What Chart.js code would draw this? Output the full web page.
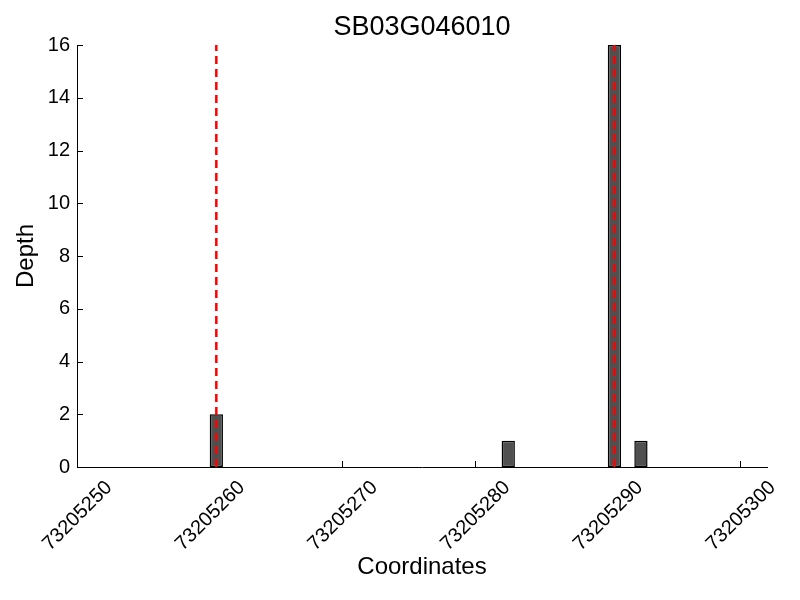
<!DOCTYPE html>
<html>
<head>
<meta charset="utf-8">
<script src="https://cdn.jsdelivr.net/npm/chart.js@4/dist/chart.umd.min.js"></script>
<style>
html,body{margin:0;padding:0;background:#fff;}
#wrap{width:800px;height:600px;}
</style>
</head>
<body>
<div id="wrap"><canvas id="c" width="800" height="600"></canvas></div>
<script>
// Data
const chartTitle = "SB03G046010";
const xAxisTitle = "Coordinates";
const yAxisTitle = "Depth";
const binStarts = [73205260, 73205282, 73205290, 73205292]; // each bin is 1 coordinate wide
const depths = [2, 1, 16, 1];
const markerPositions = [73205260.5, 73205290.5];
const xMin = 73205250, xMax = 73205302, xStep = 10;
const yMin = 0, yMax = 16, yStep = 2;

const FONT = "'Liberation Sans', Arial, Helvetica, sans-serif";

const barData = binStarts.map((b, i) => ({x: b + 0.5, y: depths[i]}));
const markerSets = markerPositions.map(p => ({
  type: 'line',
  data: [{x: p, y: yMin}, {x: p, y: yMax}],
  borderColor: '#ff0000',
  borderWidth: 2.5,
  borderDash: [8, 5],
  pointRadius: 0,
  fill: false,
  order: 0
}));

const inwardTicks = {
  id: 'inwardTicks',
  afterDatasetsDraw(chart) {
    const ctx = chart.ctx;
    const xs = chart.scales.x, ys = chart.scales.y;
    ctx.save();
    ctx.strokeStyle = '#000';
    ctx.lineWidth = 1;
    ctx.beginPath();
    xs.ticks.forEach(t => {
      const px = Math.round(xs.getPixelForValue(t.value)) + 0.5;
      ctx.moveTo(px, ys.bottom);
      ctx.lineTo(px, ys.bottom - 6);
    });
    ys.ticks.forEach(t => {
      const py = Math.round(ys.getPixelForValue(t.value)) + 0.5;
      ctx.moveTo(xs.left, py);
      ctx.lineTo(xs.left + 6, py);
    });
    ctx.stroke();
    ctx.restore();
  }
};

new Chart(document.getElementById('c'), {
  type: 'bar',
  data: {
    datasets: [
      ...markerSets,
      {
        type: 'bar',
        data: barData,
        backgroundColor: '#505050',
        borderColor: '#000000',
        borderWidth: 1.5,
        borderSkipped: false,
        barPercentage: 1.0,
        categoryPercentage: 0.5,
        order: 1
      }
    ]
  },
  options: {
    responsive: false,
    animation: false,
    layout: {padding: {left: 0, right: 33, top: 0, bottom: 0}},
    plugins: {
      legend: {display: false},
      tooltip: {enabled: false},
      title: {
        display: true,
        text: chartTitle,
        fullSize: false,
        color: '#000',
        font: {family: FONT, size: 27, weight: 'normal', lineHeight: 1.0},
        padding: {top: 14.5, bottom: 3.5}
      }
    },
    scales: {
      x: {
        type: 'linear',
        min: xMin, max: xMax,
        offset: false,
        afterFit(s) { s.height = 133; },
        grid: {display: false, drawTicks: false},
        border: {display: true, color: '#000', width: 1},
        ticks: {
          stepSize: xStep,
          includeBounds: false,
          autoSkip: false,
          minRotation: 45, maxRotation: 45,
          labelOffset: 32,
          padding: 9,
          color: '#000',
          font: {family: FONT, size: 20},
          callback: v => String(v)
        },
        title: {
          display: true, text: xAxisTitle, color: '#000',
          font: {family: FONT, size: 24},
          padding: {top: 0, bottom: 18}
        }
      },
      y: {
        min: yMin, max: yMax,
        afterFit(s) { s.width = 77; },
        grid: {display: false, drawTicks: false},
        border: {display: true, color: '#000', width: 1},
        ticks: {
          stepSize: yStep,
          padding: 7,
          color: '#000',
          font: {family: FONT, size: 20}
        },
        title: {
          display: true, text: yAxisTitle, color: '#000',
          font: {family: FONT, size: 24},
          padding: {top: 12, bottom: 0}
        }
      }
    }
  },
  plugins: [inwardTicks]
});
</script>
</body>
</html>
